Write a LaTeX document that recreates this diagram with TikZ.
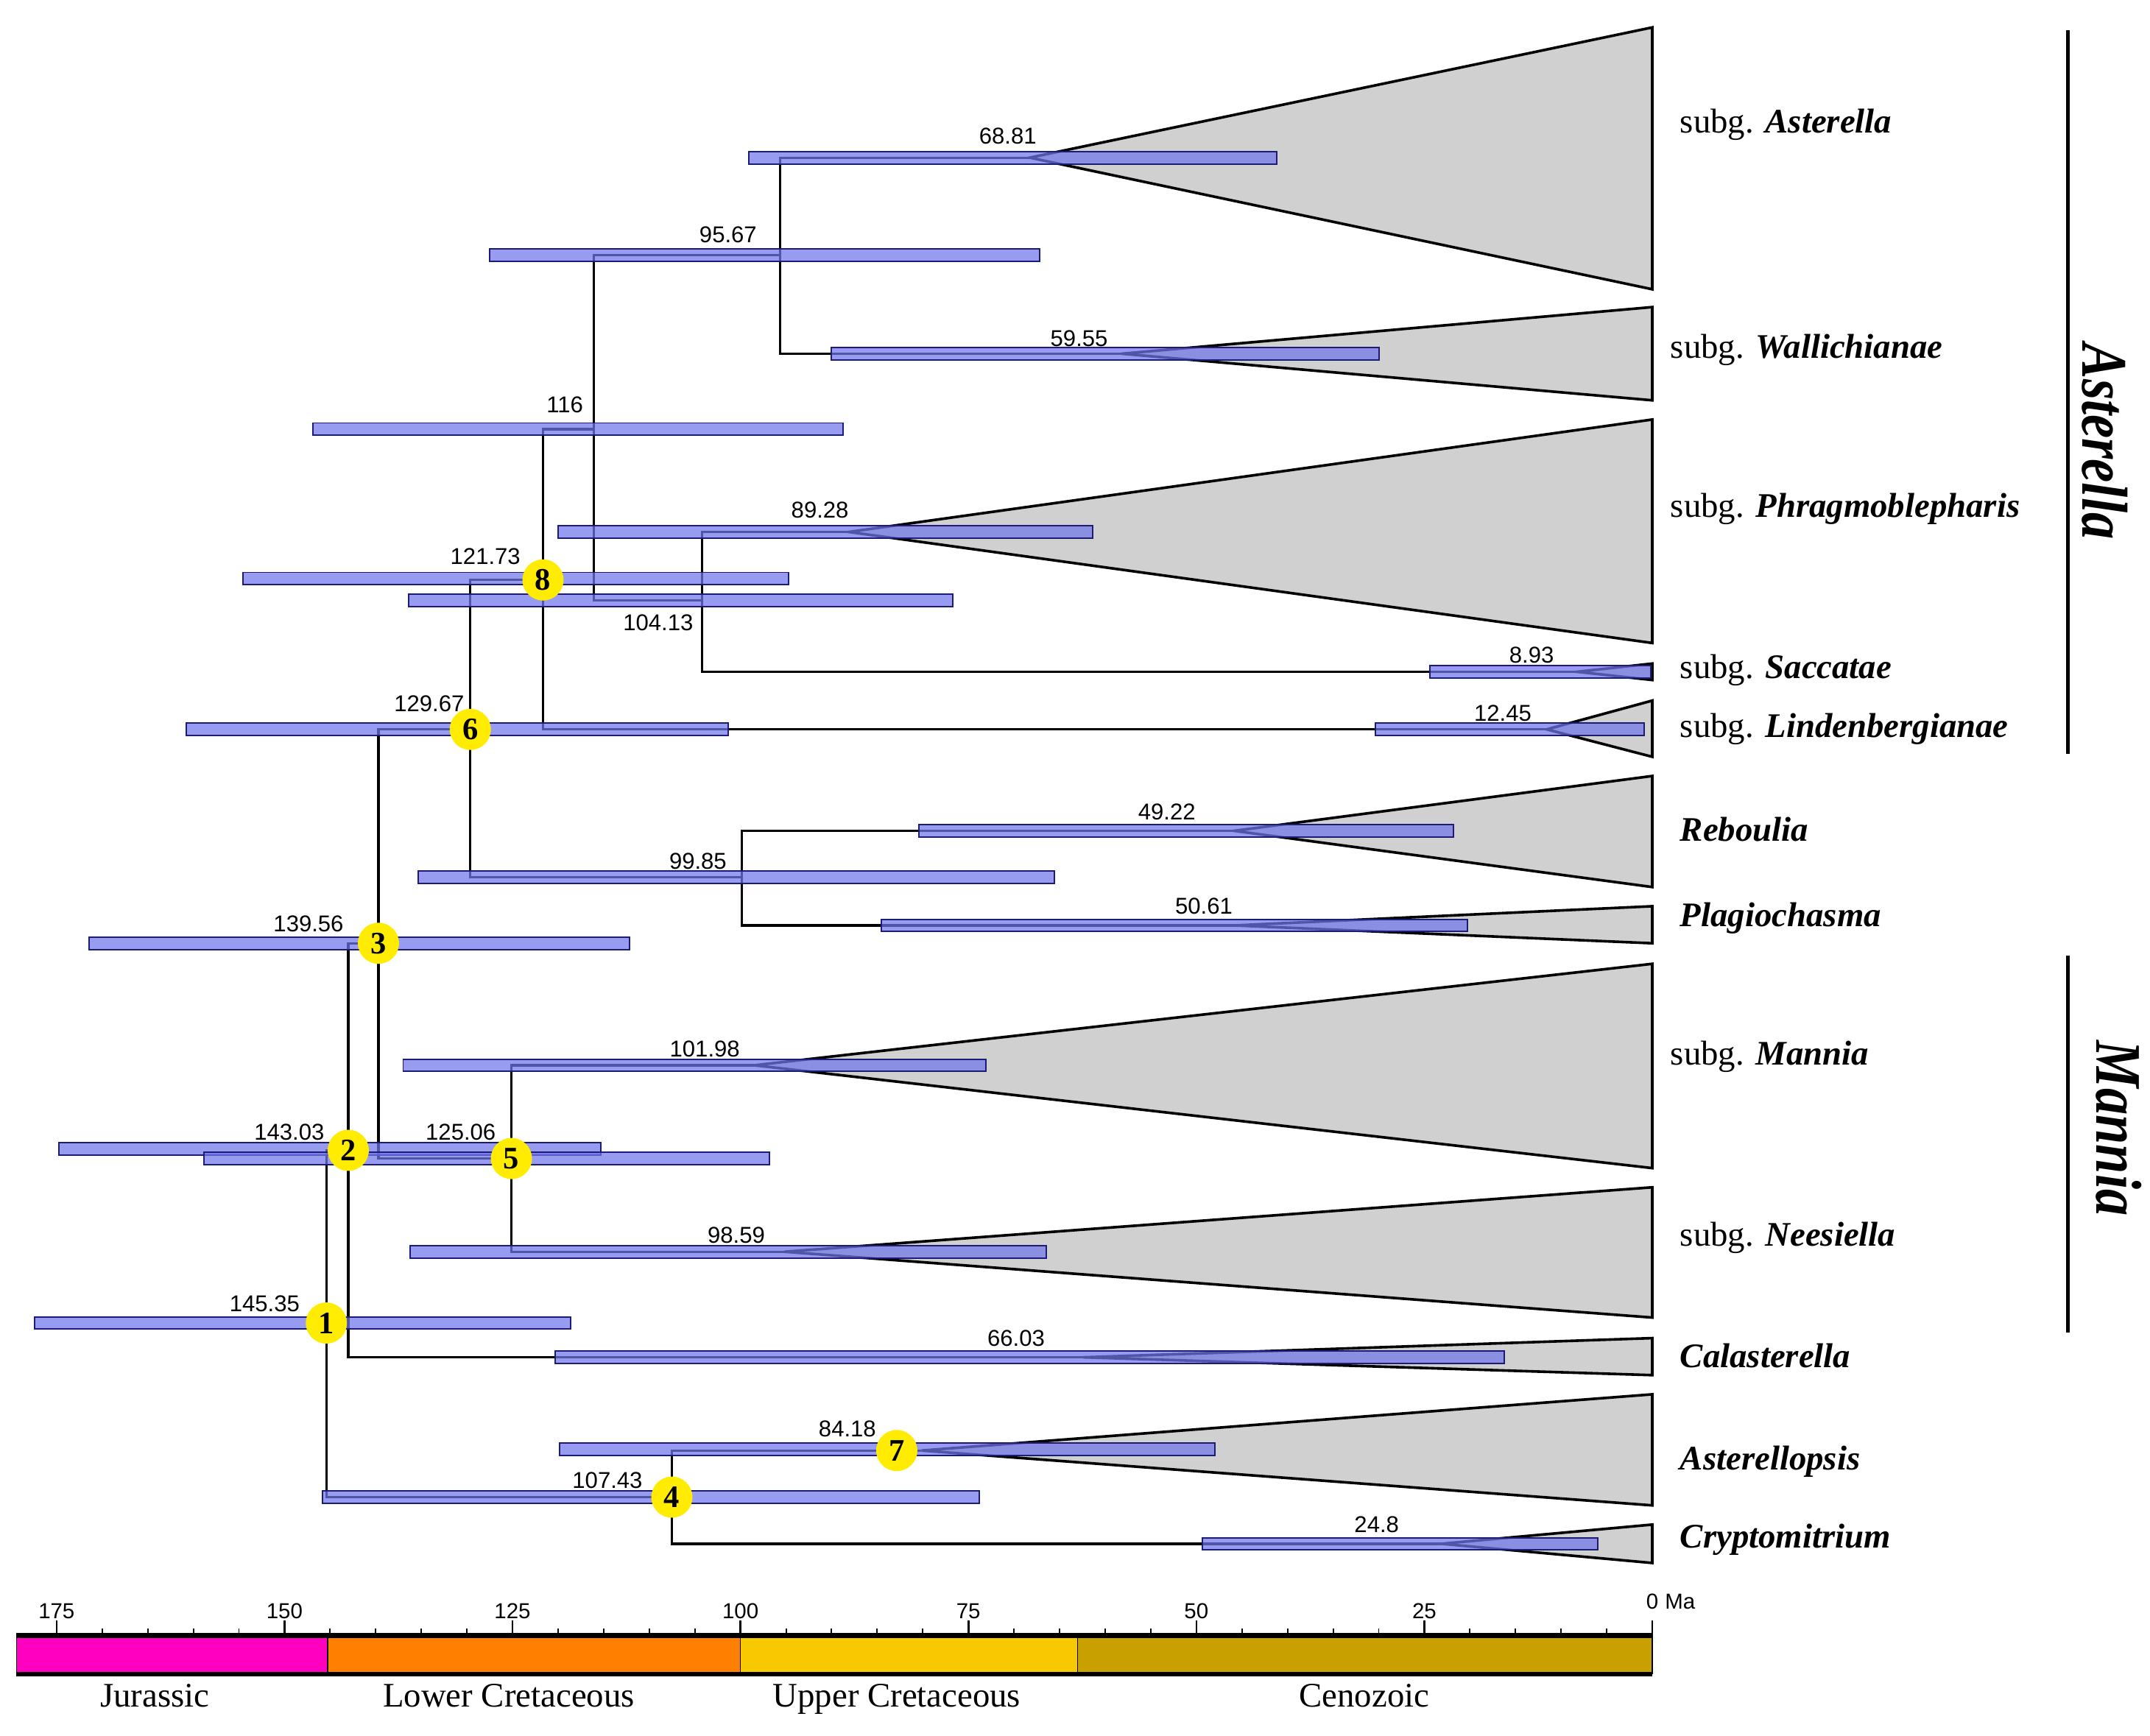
\documentclass[tikz,border=0pt]{standalone}
\usepackage{fontspec}
\usepackage{graphicx}
\setmainfont{Liberation Serif}
\newfontfamily\numfont{Liberation Sans}
\usepackage{tikz}

\definecolor{hpdfill}{RGB}{112,118,234}
\definecolor{hpdline}{RGB}{28,28,118}
\definecolor{cladegray}{RGB}{208,208,208}
\definecolor{calibyellow}{RGB}{255,236,0}
\definecolor{jurassic}{RGB}{255,0,192}
\definecolor{lowercret}{RGB}{255,128,0}
\definecolor{uppercret}{RGB}{248,200,0}
\definecolor{cenozoic}{RGB}{200,160,0}

% collapsed clade: apex x, apex y, top y, bottom y
\newcommand{\collapsed}[4]{\draw[cladetri] (#1,#2) -- (1205,#3) -- (1205,#4) -- cycle;}
% 95% HPD bar: left x, right x, y
\newcommand{\hpdbar}[3]{\draw[hpd] (#1,#3-4.5) rectangle (#2,#3+4.5);}

\begin{document}
\begin{tikzpicture}[x=0.02cm, y=-0.02cm,
    branch/.style={line width=1pt},
    hpd/.style={draw=hpdline, line width=0.6pt, fill=hpdfill, fill opacity=0.72},
    cladetri/.style={draw=black, line width=1.1pt, fill=cladegray},
    age/.style={font=\numfont\fontsize{9.5}{11}\selectfont, inner sep=0pt},
    taxon/.style={anchor=west, inner sep=0pt, font=\fontsize{14.3}{16}\selectfont},
    calib/.style={circle, fill=calibyellow, minimum size=0.6cm, inner sep=0pt,
        font=\bfseries\fontsize{13}{14}\selectfont},
    period/.style={anchor=base, inner sep=0pt, font=\fontsize{14.3}{16}\selectfont},
    ticklab/.style={inner sep=0pt, font=\numfont\fontsize{9}{10}\selectfont},
    group/.style={rotate=-90, inner sep=0pt, font=\bfseries\itshape\fontsize{27}{30}\selectfont}]
	\useasboundingbox (0,0) rectangle (1568,1266);

	% collapsed clades
	\collapsed{751}{115}{20}{211}
	\collapsed{818}{258}{224}{292}
	\collapsed{619}{388}{306}{469}
	\collapsed{1150}{490}{484}{496}
	\collapsed{1128}{532}{511}{552}
	\collapsed{900}{606}{566}{647}
	\collapsed{900}{675}{661}{688}
	\collapsed{550}{777}{703}{852}
	\collapsed{572}{913}{866}{961}
	\collapsed{790}{990}{976}{1003}
	\collapsed{672}{1058}{1017}{1098}
	\collapsed{1051}{1126}{1112}{1140}

	% internal nodes
	\coordinate (n1) at (238,965);
	\coordinate (n2) at (254,839);
	\coordinate (n3) at (276,688);
	\coordinate (n4) at (490,1092);
	\coordinate (n5) at (373,845);
	\coordinate (n6) at (343,532);
	\coordinate (n7) at (654,1058);
	\coordinate (n8) at (396,423);
	\coordinate (n116) at (433,313);
	\coordinate (n9567) at (569,186);
	\coordinate (n10413) at (512,438);
	\coordinate (n9985) at (541,640);
	% clade apices
	\coordinate (tAst) at (751,115);
	\coordinate (tWal) at (818,258);
	\coordinate (tPhr) at (619,388);
	\coordinate (tSac) at (1150,490);
	\coordinate (tLin) at (1128,532);
	\coordinate (tReb) at (900,606);
	\coordinate (tPla) at (900,675);
	\coordinate (tMan) at (550,777);
	\coordinate (tNee) at (572,913);
	\coordinate (tCal) at (790,990);
	\coordinate (tAsp) at (672,1058);
	\coordinate (tCry) at (1051,1126);

	\draw[branch] (n1) |- (n2) (n1) |- (n4)
		(n2) |- (n3) (n2) |- (tCal)
		(n3) |- (n6) (n3) |- (n5)
		(n6) |- (n8) (n6) |- (n9985)
		(n8) |- (n116) (n8) |- (tLin)
		(n116) |- (n9567) (n116) |- (n10413)
		(n9567) |- (tAst) (n9567) |- (tWal)
		(n10413) |- (tPhr) (n10413) |- (tSac)
		(n9985) |- (tReb) (n9985) |- (tPla)
		(n5) |- (tMan) (n5) |- (tNee)
		(n4) |- (n7) (n4) |- (tCry)
		(n7) -- (tAsp);

	% HPD bars
	\hpdbar{546}{931}{115}
	\hpdbar{357}{758}{186}
	\hpdbar{606}{1006}{258}
	\hpdbar{228}{615}{313}
	\hpdbar{407}{797}{388}
	\hpdbar{177}{575}{422}
	\hpdbar{298}{695}{438}
	\hpdbar{1043}{1204}{490}
	\hpdbar{136}{531}{532}
	\hpdbar{1003}{1199}{532}
	\hpdbar{670}{1060}{606}
	\hpdbar{305}{769}{640}
	\hpdbar{643}{1070}{675}
	\hpdbar{65}{459}{688}
	\hpdbar{294}{719}{777}
	\hpdbar{43}{438}{838}
	\hpdbar{149}{561}{845}
	\hpdbar{299}{763}{913}
	\hpdbar{25}{416}{965}
	\hpdbar{405}{1097}{990}
	\hpdbar{408}{886}{1057}
	\hpdbar{235}{714}{1092}
	\hpdbar{877}{1165}{1126}

	% ages
	\node[age] (a6881) at (735,99) {68.81};
	\node[age] (a9567) at (531,171) {95.67};
	\node[age] (a5955) at (787,247) {59.55};
	\node[age] (a116) at (412,295) {116};
	\node[age] (a8928) at (598,372) {89.28};
	\node[age] (a12173) at (354,406) {121.73};
	\node[age] (a10413) at (480,454) {104.13};
	\node[age] (a893) at (1117,478) {8.93};
	\node[age] (a12967) at (313,513) {129.67};
	\node[age] (a1245) at (1096,520) {12.45};
	\node[age] (a4922) at (851,592) {49.22};
	\node[age] (a9985) at (509,628) {99.85};
	\node[age] (a5061) at (878,661) {50.61};
	\node[age] (a13956) at (225,674) {139.56};
	\node[age] (a10198) at (514,765) {101.98};
	\node[age] (a14303) at (211,826) {143.03};
	\node[age] (a12506) at (336,826) {125.06};
	\node[age] (a9859) at (537,901) {98.59};
	\node[age] (a14535) at (193,951) {145.35};
	\node[age] (a6603) at (741,976) {66.03};
	\node[age] (a8418) at (618,1042) {84.18};
	\node[age] (a10743) at (443,1080) {107.43};
	\node[age] (a248) at (1004,1112) {24.8};

	% calibration points
	\node[calib] (c1) at (n1) {1};
	\node[calib] (c2) at (n2) {2};
	\node[calib] (c3) at (n3) {3};
	\node[calib] (c4) at (n4) {4};
	\node[calib] (c5) at (n5) {5};
	\node[calib] (c6) at (n6) {6};
	\node[calib] (c7) at (n7) {7};
	\node[calib] (c8) at (n8) {8};

	% taxa
	\node[taxon] (xAst) at (1225,91) {subg. \textbf{\textit{Asterella}}};
	\node[taxon] (xWal) at (1218,255) {subg. \textbf{\textit{Wallichianae}}};
	\node[taxon] (xPhr) at (1218,371) {subg. \textbf{\textit{Phragmoblepharis}}};
	\node[taxon] (xSac) at (1225,489) {subg. \textbf{\textit{Saccatae}}};
	\node[taxon] (xLin) at (1225,532) {subg. \textbf{\textit{Lindenbergianae}}};
	\node[taxon] (xReb) at (1225,605) {\textbf{\textit{Reboulia}}};
	\node[taxon] (xPla) at (1225,670) {\textbf{\textit{Plagiochasma}}};
	\node[taxon] (xMan) at (1218,771) {subg. \textbf{\textit{Mannia}}};
	\node[taxon] (xNee) at (1225,903) {subg. \textbf{\textit{Neesiella}}};
	\node[taxon] (xCal) at (1225,989) {\textbf{\textit{Calasterella}}};
	\node[taxon] (xAsp) at (1225,1066) {\textbf{\textit{Asterellopsis}}};
	\node[taxon] (xCry) at (1225,1123) {\textbf{\textit{Cryptomitrium}}};

	% genera
	\draw[line width=1.4pt] (1508,22) -- (1508,550);
	\node[group] (gAst) at (1535,322) {\scalebox{0.82}[1]{Asterella}};
	\draw[line width=1.4pt] (1508,697) -- (1508,972);
	\node[group] (gMan) at (1545,823) {\scalebox{0.82}[1]{Mannia}};

	% time scale
	\draw[fill=jurassic] (12,1193) rectangle (239,1221);
	\draw[fill=lowercret] (239,1193) rectangle (540,1221);
	\draw[fill=uppercret] (540,1193) rectangle (786,1221);
	\draw[fill=cenozoic] (786,1193) rectangle (1205,1221);
	\draw[line width=2pt] (12,1193) -- (1205,1193) (12,1221) -- (1205,1221);
	\foreach \t in {0,5,...,175}
		\draw[line width=0.6pt] ({1205-6.65*\t},1193) -- ++(0,-5);
	\foreach \t in {0,25,...,175}
		\draw[line width=0.8pt] ({1205-6.65*\t},1193) -- ++(0,-11);
	\foreach \t in {25,50,...,175}
		\node[ticklab] (tk\t) at ({1205-6.65*\t},1175) {\t};
	\node[ticklab] (tk0) at (1205,1168) {0};
	\node[ticklab, anchor=west] (tkMa) at (1214,1168) {Ma};
	\node[period] (pJur) at (113,1245) {Jurassic};
	\node[period] (pLow) at (371,1245) {Lower Cretaceous};
	\node[period] (pUpp) at (654,1245) {Upper Cretaceous};
	\node[period] (pCen) at (995,1245) {Cenozoic};
\end{tikzpicture}
\end{document}
